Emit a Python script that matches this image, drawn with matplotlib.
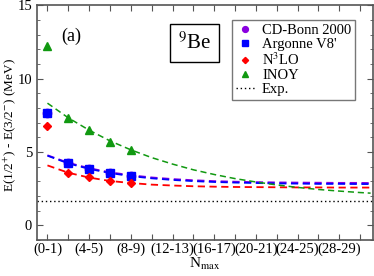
import numpy as np
import matplotlib
matplotlib.use("Agg")
import matplotlib.pyplot as plt

plt.rcParams['font.family'] = ['Liberation Serif', 'DejaVu Serif']
plt.rcParams['mathtext.fontset'] = 'stix'

# Nmax positions of the calculated points
nmax_pts = [0, 2, 4, 6, 8]
cdbonn_pts = [7.69, 4.25, 3.84, 3.54, 3.34]
av8_pts = [7.69, 4.25, 3.84, 3.54, 3.34]
n3lo_pts = [6.79, 3.59, 3.27, 3.03, 2.90]
inoy_pts = [12.25, 7.33, 6.52, 5.68, 5.11]

# dashed extrapolation curves, read at each Nmax tick (plus right edge)
nmax_fit = [0, 2, 4, 6, 8, 10, 12, 14, 16, 18, 20, 22, 24, 26, 28, 30, 31]
cdbonn_fit = [4.78, 4.27, 3.90, 3.62, 3.42, 3.27, 3.16, 3.08, 3.02, 2.98,
              2.95, 2.93, 2.92, 2.91, 2.90, 2.90, 2.89]
av8_fit = [4.75, 4.23, 3.85, 3.57, 3.36, 3.21, 3.10, 3.02, 2.96, 2.92,
           2.89, 2.86, 2.85, 2.83, 2.83, 2.82, 2.82]
n3lo_fit = [4.09, 3.59, 3.26, 3.03, 2.89, 2.78, 2.72, 2.67, 2.64, 2.62,
            2.61, 2.60, 2.59, 2.59, 2.58, 2.58, 2.58]
inoy_fit = [8.33, 7.33, 6.49, 5.76, 5.15, 4.62, 4.18, 3.79, 3.47, 3.19,
            2.96, 2.76, 2.59, 2.45, 2.34, 2.24, 2.20]

exp_value = 1.68

tick_pos = list(range(0, 31, 2))
tick_labels = ['(0-1)', '', '(4-5)', '', '(8-9)', '', '(12-13)', '', '(16-17)', '',
               '(20-21)', '', '(24-25)', '', '(28-29)', '']

fig = plt.figure(figsize=(3.74, 2.76), dpi=100)
ax = fig.add_axes([0.099, 0.130, 0.8975, 0.851])

dash = (0, (4, 2.5))
ax.plot(nmax_fit, cdbonn_fit, color='#8a00e0', linestyle=dash, lw=1.3)
ax.plot(nmax_fit, av8_fit, color='blue', linestyle=dash, lw=1.3)
ax.plot(nmax_fit, n3lo_fit, color='red', linestyle=dash, lw=1.3)
ax.plot(nmax_fit, inoy_fit, color='#119911', linestyle=dash, lw=1.1)

ax.plot(nmax_pts, cdbonn_pts, 'o', color='#8a00e0', ms=6, ls='none', label='CD-Bonn 2000')
ax.plot(nmax_pts, av8_pts, 's', color='blue', ms=6, ls='none', label="Argonne V8'")
ax.plot(nmax_pts, n3lo_pts, 'D', color='red', ms=4.5, ls='none', label='N$^3$LO')
ax.plot(nmax_pts, inoy_pts, '^', color='#119911', ms=6, ls='none', label='INOY')
ax.axhline(exp_value, color='black', linestyle=(0, (1, 2)), lw=1.0, label='Exp.')

ax.set_xlim(-1, 31.2)
ax.set_ylim(-1, 15)
ax.set_xticks(tick_pos)
ax.set_xticklabels(tick_labels, fontsize=10.5)
ax.set_yticks([0, 5, 10, 15])
ax.set_yticks(np.arange(-1, 15, 1), minor=True)
ax.tick_params(axis='both', direction='in', top=True, right=True, length=4,
               labelsize=10.5, color='#555555')
ax.tick_params(axis='y', which='minor', direction='in', right=True, length=2.5, color='#555555')
ax.tick_params(axis='x', pad=2)
for s in ax.spines.values():
    s.set_color('#555555')
    s.set_linewidth(1.2)

ax.set_xlabel('N$_{\\mathrm{max}}$', fontsize=11, labelpad=0)
ax.set_ylabel('E(1/2$^{+}$) - E(3/2$^{-}$) (MeV)', fontsize=9.5)
ax.yaxis.set_label_coords(-0.058, 0.49)

ax.text(1.3, 12.9, '(a)', fontsize=13, va='center', ha='left')
ax.text(14.1, 12.45, '$^{9}$Be', fontsize=15, va='center', ha='center',
        bbox=dict(boxstyle='square,pad=0.4', fc='white', ec='black', lw=1.0))

leg = ax.legend(loc='upper right', bbox_to_anchor=(0.947, 0.937), fontsize=10.5,
                frameon=True, fancybox=False, edgecolor='#555555',
                handlelength=1.3, handletextpad=0.5, borderpad=0.25,
                labelspacing=0.05, markerscale=0.7, borderaxespad=0)
leg.get_frame().set_linewidth(1.0)

fig.savefig('out.png', dpi=100)
